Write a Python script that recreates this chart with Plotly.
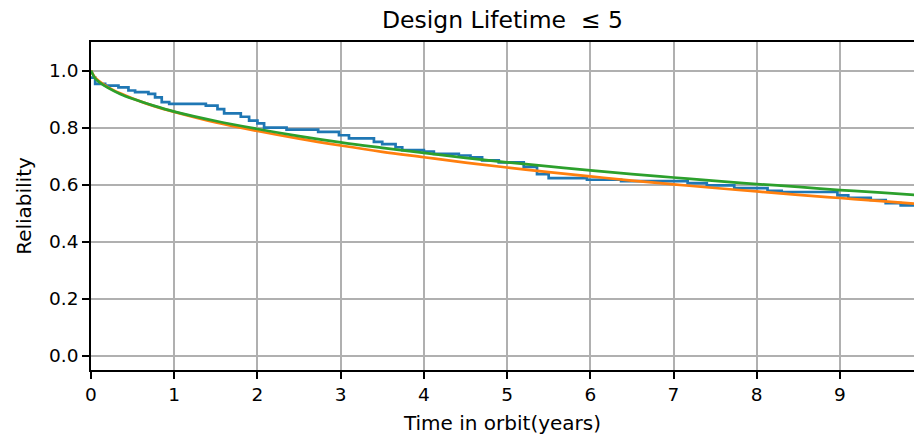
import plotly.graph_objects as go

# Kaplan-Meier style empirical reliability (step curve)
km_time = [0.0, 0.05, 0.17, 0.33, 0.45, 0.53, 0.69, 0.77, 0.85, 0.94, 1.16, 1.38, 1.52, 1.6,
           1.8, 1.9, 2.0, 2.08, 2.35, 2.73, 2.98, 3.1, 3.4, 3.5, 3.66, 3.74, 4.0, 4.12,
           4.42, 4.56, 4.7, 4.9, 5.2, 5.36, 5.5, 5.96, 6.37, 7.17, 7.4, 7.73, 8.13,
           8.3, 8.97, 9.1, 9.37, 9.55, 9.73, 9.89]
km_rel = [0.975, 0.953, 0.947, 0.941, 0.930, 0.924, 0.918, 0.906, 0.889, 0.883, 0.883, 0.877,
          0.865, 0.850, 0.838, 0.824, 0.815, 0.800, 0.793, 0.785, 0.773, 0.762, 0.750,
          0.742, 0.731, 0.721, 0.716, 0.708, 0.702, 0.696, 0.685, 0.678, 0.662, 0.637,
          0.623, 0.617, 0.612, 0.605, 0.597, 0.588, 0.578, 0.574, 0.562, 0.554, 0.546,
          0.535, 0.527, 0.527]

# Fitted model curves (sampled)
fit_time = [0.0, 0.05, 0.1, 0.2, 0.35, 0.5, 0.75, 1.0, 1.5, 2.0, 2.5, 3.0, 3.5, 4.0, 4.5,
            5.0, 5.5, 6.0, 6.5, 7.0, 7.5, 8.0, 8.5, 9.0, 9.5, 9.9]
fit_orange = [1.0, 0.975, 0.962, 0.942, 0.920, 0.902, 0.876, 0.855, 0.818, 0.788, 0.761,
              0.737, 0.715, 0.696, 0.677, 0.660, 0.644, 0.629, 0.614, 0.601, 0.588, 0.576,
              0.564, 0.553, 0.542, 0.533]
fit_green = [1.0, 0.972, 0.959, 0.940, 0.918, 0.901, 0.877, 0.856, 0.823, 0.795, 0.770,
             0.748, 0.729, 0.711, 0.694, 0.678, 0.664, 0.650, 0.637, 0.625, 0.613, 0.602,
             0.592, 0.581, 0.572, 0.564]

x_ticks = [0, 1, 2, 3, 4, 5, 6, 7, 8, 9]
y_ticks = [0.0, 0.2, 0.4, 0.6, 0.8, 1.0]

fig = go.Figure()
fig.add_trace(go.Scatter(x=km_time, y=km_rel, mode="lines", line=dict(color="#1f77b4", width=2.7, shape="hv"),
                         showlegend=False))
fig.add_trace(go.Scatter(x=fit_time, y=fit_orange, mode="lines", line=dict(color="#ff7f0e", width=2.7, shape="spline"),
                         showlegend=False))
fig.add_trace(go.Scatter(x=fit_time, y=fit_green, mode="lines", line=dict(color="#2ca02c", width=2.7, shape="spline"),
                         showlegend=False))

font = "DejaVu Sans"
fig.update_layout(
    width=914, height=435,
    margin=dict(l=91, r=0, t=42, b=65, autoexpand=False),
    paper_bgcolor="white", plot_bgcolor="white",
    font=dict(family=font, size=18.5, color="black"),
    title=dict(text="Design Lifetime  ≤ 5", x=(91 + 914) / 2 / 914, xanchor="center",
               y=1 - 20 / 435, yanchor="middle", automargin=False,
               font=dict(family=font, size=23.5, color="black")),
)
fig.update_xaxes(range=[0, 9.89], tickvals=x_ticks, ticktext=[str(v) for v in x_ticks],
                 showgrid=True, gridcolor="#b0b0b0", gridwidth=1.6, zeroline=False,
                 showline=True, linecolor="black", linewidth=1.6, mirror=True,
                 ticks="outside", ticklen=7, tickcolor="black", tickwidth=1.6,
                 automargin=False,
                 title=dict(text="Time in orbit(years)", standoff=13, font=dict(size=20)))
fig.update_yaxes(range=[-0.05, 1.1], tickvals=y_ticks, ticktext=[f"{v:.1f}" for v in y_ticks],
                 showgrid=True, gridcolor="#b0b0b0", gridwidth=1.6, zeroline=False,
                 showline=True, linecolor="black", linewidth=1.6, mirror=False,
                 ticks="outside", ticklen=7, tickcolor="black", tickwidth=1.6,
                 automargin=False,
                 title=dict(text="Reliability", standoff=12, font=dict(size=20)))

fig.write_html("out.html", config={"displayModeBar": False},
               post_script="document.body.style.margin='0px';document.body.style.overflow='hidden';")
